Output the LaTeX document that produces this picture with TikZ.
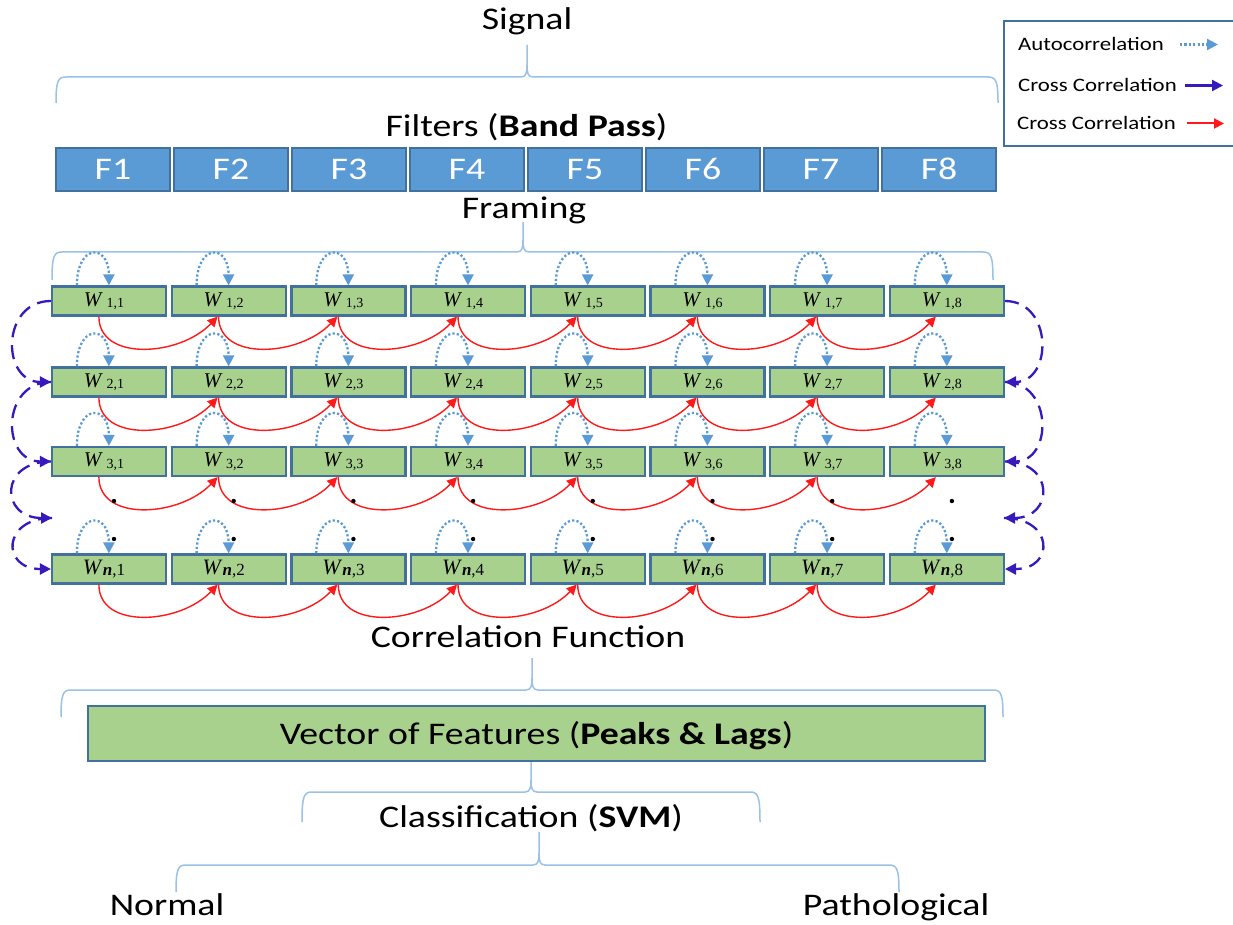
\documentclass[tikz,border=0pt]{standalone}
\usepackage{fontspec}
\setmainfont[FakeStretch=1.2]{Carlito}
\newfontfamily\wfont{Liberation Serif}
\usetikzlibrary{arrows.meta}

\definecolor{fblue}{RGB}{91,155,213}
\definecolor{edgeblue}{RGB}{65,113,156}
\definecolor{wgreen}{RGB}{169,209,142}
\definecolor{bracecol}{RGB}{155,194,230}
\definecolor{autocol}{RGB}{91,155,213}
\definecolor{crosscol}{RGB}{55,25,190}
\definecolor{redcol}{RGB}{255,25,25}

\newcommand\bigfont{\fontsize{31.5}{36}\selectfont}
\newcommand\legfont{\fontsize{19}{22}\selectfont}

% curly brace: x1, x2, y of bar, y of ends, x of tip, y of tip
\newcommand\drawcurly[6]{%
  \draw[bracestyle] (#1,#4) .. controls (#1,#3+4) and (#1+2,#3) .. (#1+10,#3)
    -- (#5-6,#3) .. controls (#5-1,#3) and (#5,#3-4) .. (#5,#3-12) -- (#5,#6);
  \draw[bracestyle] (#5,#3-12) .. controls (#5,#3-4) and (#5+1,#3) .. (#5+6,#3)
    -- (#2-10,#3) .. controls (#2-2,#3) and (#2,#3+4) .. (#2,#4);
}

\tikzset{
  bracestyle/.style={draw=bracecol, line width=1.5pt},
  lab/.style={font=\bigfont, inner sep=0pt, anchor=base},
  legtext/.style={font=\legfont, inner sep=0pt, anchor=base west},
  fbox/.style={draw=edgeblue, line width=2pt, fill=fblue, minimum width=114pt,
    minimum height=43pt, inner sep=0pt, text=white, font=\bigfont,
    text height=21pt, text depth=0pt},
  wbox/.style={draw=edgeblue, line width=2.2pt, fill=wgreen, minimum width=114pt,
    minimum height=29pt, inner sep=0pt},
  vbox/.style={draw=edgeblue, line width=2pt, fill=wgreen, minimum width=897pt,
    minimum height=55pt, inner sep=0pt, font=\bigfont, text height=21pt, text depth=0pt},
  autoarc/.style={draw=autocol, line width=2.3pt, dash pattern=on 2.2pt off 2.2pt,
    -{Triangle[length=11pt,width=11pt]}},
  crossarc/.style={draw=crosscol, line width=2.3pt, dash pattern=on 14pt off 8pt,
    -{Triangle[length=11pt,width=11pt]}},
  redarc/.style={draw=redcol, line width=1.4pt, -{Triangle[length=10pt,width=10pt]}},
}

\begin{document}
\begin{tikzpicture}[x=1pt, y=-1pt]
\useasboundingbox (0,0) rectangle (1233,925);
\clip (0,0) rectangle (1233,925);
\fill[white] (0,0) rectangle (1233,925);

% titles
\node[lab] (signal) at (527,30) {Signal};
\drawcurly{56}{998}{77}{103}{527}{45}
\node[lab] (filters) at (526.5,137) {Filters (\textbf{Band Pass})};

% filter bank
\foreach \i in {1,...,8}
  \node[fbox] (f\i) at ({113+(\i-1)*118},169.5) {F\i};

\node[lab] (framing) at (524,219) {Framing};
\drawcurly{52}{993}{252}{280}{523}{222}

% frame windows
\foreach \r/\y in {1/301,2/382,3/461.5}
  \foreach \c in {1,...,8}
    \node[wbox] (w\r\c) at ({109+(\c-1)*119.7},\y)
      {\wfont\fontsize{21}{21}\selectfont\textit{W}\,\raisebox{-1.5pt}{\fontsize{14}{14}\selectfont\r,\c}\hspace*{10pt}};
\foreach \c in {1,...,8}
  \node[wbox] (wn\c) at ({109+(\c-1)*119.7},569)
    {\wfont\fontsize{22}{22}\selectfont\textit{W}\raisebox{-1.5pt}{\fontsize{17}{17}\selectfont\textit{\textbf{n}},\c}\hspace*{10pt}};

% autocorrelation loops
\foreach \r in {1,2,3,n}
  \foreach \c in {1,...,8}
    \draw[autoarc] ([xshift=26pt]w\r\c.north west) .. controls +(0,-42) and +(0,-42) .. ([xshift=58pt]w\r\c.north west);

% cross correlation between neighbouring bands
\foreach \r in {1,2,3,n}
  \foreach \c in {1,...,7} {
    \pgfmathtruncatemacro\nxt{\c+1}
    \draw[redarc] ([xshift=48pt]w\r\c.south west) .. controls +(0,45) and +(-38,40) .. ([xshift=47pt]w\r\nxt.south west);
  }

% continuation dots
\foreach \c in {1,...,8} {
  \fill ({114+(\c-1)*119.7},501) circle (2.2pt);
  \fill ({114+(\c-1)*119.7},539) circle (2.2pt);
}

% cross correlation between consecutive frames
\coordinate (gapL) at (52,518);
\coordinate (gapR) at (1004,518);
\draw[crossarc] (w11.west) .. controls +(-50,0) and +(-50,0) .. (w21.west);
\draw[crossarc] (w21.west) .. controls +(-50,0) and +(-50,0) .. (w31.west);
\draw[crossarc] (w31.west) .. controls +(-52,0) and +(-52,0) .. (gapL);
\draw[crossarc] (gapL) .. controls +(-50,0) and +(-50,0) .. (wn1.west);
\draw[crossarc] (w18.east) .. controls +(48,0) and +(48,0) .. (w28.east);
\draw[crossarc] (w28.east) .. controls +(48,0) and +(48,0) .. (w38.east);
\draw[crossarc] (w38.east) .. controls +(50,0) and +(50,0) .. (gapR);
\draw[crossarc] (gapR) .. controls +(50,0) and +(50,0) .. (wn8.east);

% features and classification
\node[lab] (corr) at (528,647) {Correlation Function};
\drawcurly{61}{1003}{690}{717}{532}{658}
\node[vbox] (vec) at (536.5,733.5) {Vector of Features (\textbf{Peaks \& Lags})};
\drawcurly{302}{760}{792}{822}{531}{762}
\node[lab] (cls) at (531,827) {Classification (\textbf{SVM})};
\drawcurly{176}{899}{865}{892}{539}{832}
\node[lab] (normal) at (167,915) {Normal};
\node[lab] (patho) at (896,915) {Pathological};

% legend
\node[draw=edgeblue, line width=2pt, minimum width=240pt, minimum height=125pt,
  inner sep=0pt, anchor=north west] (legend) at (1003,20) {};
\node[legtext] (lauto) at (1018,51) {Autocorrelation};
\node[legtext] (lcross) at (1018,92) {Cross Correlation};
\node[legtext] (lred) at (1017,130) {Cross Correlation};
\coordinate (a1) at (1180,44.5);
\coordinate (a2) at (1218,44.5);
\coordinate (b1) at (1185,85.5);
\coordinate (b2) at (1223,85.5);
\coordinate (c1) at (1187,123.5);
\coordinate (c2) at (1224,123.5);
\draw[autoarc] (a1) -- (a2);
\draw[crossarc, solid] (b1) -- (b2);
\draw[redarc, line width=2pt] (c1) -- (c2);
\end{tikzpicture}
\end{document}
